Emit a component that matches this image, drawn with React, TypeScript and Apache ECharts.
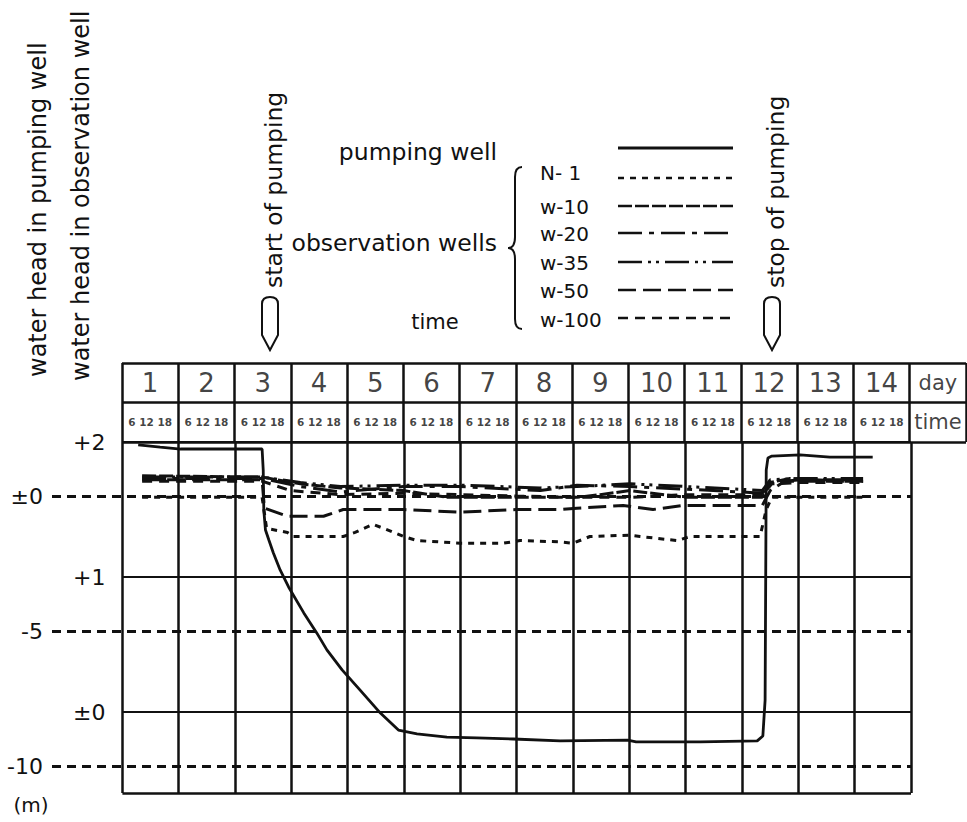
import React, { useEffect, useRef } from "react";
import * as echarts from "echarts";

// ---------------- data ----------------
const DAY_LABELS = ["1", "2", "3", "4", "5", "6", "7", "8", "9", "10", "11", "12", "13", "14"];
const HOUR_LABEL = "6 12 18";
const HEADER_EXTRA = ["day", "time"];

// left scale labels
const PUMP_TICKS = [0, -5, -10];
const PUMP_TICK_LABELS = ["±0", "-5", "-10"];
const OBS_TICKS = [2, 1, 0];
const OBS_TICK_LABELS = ["+2", "+1", "±0"];

// time in days from start of day 1, water head in m
const PUMPING_WELL: [number, number][] = [
  [0.28, 1.89], [0.67, 1.81], [1.03, 1.74], [2.48, 1.74], [2.5, 0.96], [2.51, -0.52],
  [2.54, -1.26], [2.6, -1.63], [2.68, -2.11], [2.8, -2.74], [2.95, -3.37], [3.22, -4.33],
  [3.45, -5.07], [3.63, -5.7], [3.9, -6.44], [4.22, -7.19], [4.58, -8.04], [4.9, -8.67],
  [5.23, -8.81], [5.76, -8.93], [6.29, -8.96], [6.94, -9.0], [7.77, -9.07], [8.97, -9.04],
  [9.12, -9.11], [10.26, -9.11], [11.27, -9.07], [11.37, -8.89], [11.41, -7.56],
  [11.43, 0.96], [11.46, 1.41], [11.53, 1.48], [12.03, 1.52], [12.56, 1.44], [13.32, 1.44],
];

const N1: [number, number][] = [
  [0.35, 1.59], [2.48, 1.59], [2.56, 1.36], [2.93, 1.33], [3.03, 1.3], [3.92, 1.3],
  [4.13, 1.33], [4.45, 1.39], [4.76, 1.34], [4.99, 1.3], [5.23, 1.27], [6.0, 1.25],
  [6.76, 1.25], [7.06, 1.27], [7.77, 1.26], [8.0, 1.25], [8.3, 1.3], [9.01, 1.31],
  [9.19, 1.3], [9.85, 1.27], [10.08, 1.3], [11.32, 1.3], [11.43, 1.5], [11.53, 1.59], [13.15, 1.59],
];
const W10: [number, number][] = [
  [0.35, 1.75], [2.48, 1.74], [3.16, 1.69], [3.87, 1.66], [4.99, 1.64], [5.77, 1.59],
  [6.99, 1.59], [8.07, 1.59], [8.48, 1.61], [9.01, 1.64], [10.02, 1.59], [10.97, 1.59],
  [11.36, 1.59], [11.5, 1.7], [11.85, 1.73], [12.74, 1.71], [13.15, 1.71],
];
const W20: [number, number][] = [
  [0.35, 1.73], [2.48, 1.73], [3.16, 1.67], [3.87, 1.63], [4.99, 1.67], [6.0, 1.67],
  [7.42, 1.64], [8.07, 1.68], [9.01, 1.67], [10.02, 1.65], [10.97, 1.63], [11.36, 1.62],
  [11.53, 1.7], [12.03, 1.72], [13.15, 1.72],
];
const W35: [number, number][] = [
  [0.35, 1.74], [2.48, 1.74], [3.16, 1.7], [3.87, 1.67], [4.99, 1.68], [6.0, 1.68],
  [7.42, 1.66], [8.07, 1.67], [9.01, 1.69], [10.02, 1.67], [10.97, 1.65], [11.36, 1.64],
  [11.5, 1.72], [12.03, 1.73], [13.15, 1.73],
];
const W50: [number, number][] = [
  [0.35, 1.72], [2.48, 1.72], [2.52, 1.51], [2.93, 1.45], [3.57, 1.45], [3.92, 1.5],
  [4.99, 1.5], [6.0, 1.48], [6.99, 1.5], [7.77, 1.5], [8.07, 1.51], [8.89, 1.53],
  [9.42, 1.5], [9.95, 1.53], [10.97, 1.53], [11.36, 1.53], [11.5, 1.64], [11.76, 1.71], [13.15, 1.71],
];
const W100: [number, number][] = [
  [0.35, 1.71], [2.48, 1.71], [2.98, 1.64], [3.87, 1.61], [4.99, 1.62], [6.0, 1.61],
  [6.99, 1.6], [8.07, 1.59], [9.01, 1.59], [10.02, 1.61], [10.97, 1.61], [11.36, 1.61],
  [11.53, 1.69], [12.03, 1.7], [13.15, 1.7],
];

const OBS_NAMES = ["N- 1", "w-10", "w-20", "w-35", "w-50", "w-100"];
const OBS_DATA = [N1, W10, W20, W35, W50, W100];

// ---------------- styles ----------------
const INK = "#111";
const FONT = "DejaVu Sans";
const DASHES: Record<string, number[] | "solid"> = {
  "pumping well": "solid",
  "N- 1": [6, 6],
  "w-10": [14, 3],
  "w-20": [24, 7, 5, 7],
  "w-35": [24, 6, 3, 5, 3, 6],
  "w-50": [18, 7],
  "w-100": [10, 7],
};

echarts.graphic.registerShape(
  "pumpMark",
  echarts.graphic.extendPath("M0,7 Q0,0 8,0 Q16,0 16,7 L16,38 L8,53 L0,38 Z", {})
);
echarts.graphic.registerShape(
  "brace",
  echarts.graphic.extendPath("M14,0 Q7,0 7,10 L7,70 Q7,81 0,81 Q7,81 7,92 L7,152 Q7,162 14,162", {})
);

function buildOption() {
  const txt = (size: number, extra: any = {}) => ({
    color: INK,
    fontFamily: FONT,
    fontSize: size,
    ...extra,
  });

  const dayBounds = Array.from({ length: DAY_LABELS.length + 1 }, (_, i) => i);
  const lastDay = DAY_LABELS.length;

  const mainLines: any[] = [
    ...dayBounds.map((d) => ({ xAxis: d, lineStyle: { type: "solid", width: 2.5, color: INK } })),
    ...PUMP_TICKS.map((v, i) => ({
      yAxis: v,
      lineStyle: { type: [9, 6], width: 3, color: INK },
      label: {
        show: true,
        position: "start",
        distance: 9,
        formatter: PUMP_TICK_LABELS[i],
        ...txt(22),
      },
    })),
  ];

  const obsLines: any[] = [
    ...OBS_TICKS.map((v, i) => [
      {
        coord: [0, v],
        lineStyle: { type: "solid", width: 2, color: INK },
        label: {
          show: true,
          position: "start",
          distance: 17,
          formatter: OBS_TICK_LABELS[i],
          ...txt(22),
        },
      },
      { coord: [lastDay, v] },
    ]),
    [
      { coord: [0, -0.6], lineStyle: { type: "solid", width: 2.5, color: INK } },
      { coord: [lastDay, -0.6] },
    ],
  ];

  const headerItems: any[] = [
    ...DAY_LABELS.map((d, i) => ({ value: [i + 0.5, 1.5], label: { formatter: d, ...txt(26) } })),
    ...DAY_LABELS.map((_, i) => ({
      value: [i + 0.5, 0.5],
      label: { formatter: HOUR_LABEL, ...txt(10.5, { fontWeight: "bold" }) },
    })),
    { value: [lastDay + 0.5, 1.5], label: { formatter: HEADER_EXTRA[0], ...txt(21) } },
    { value: [lastDay + 0.5, 0.5], label: { formatter: HEADER_EXTRA[1], ...txt(21) } },
  ];
  const headerCols = Array.from({ length: lastDay + 2 }, (_, i) => i);

  const obsSeries = OBS_NAMES.map((name, k) => ({
    name,
    type: "line",
    xAxisIndex: 0,
    yAxisIndex: 1,
    data: OBS_DATA[k],
    symbol: "none",
    z: 4,
    lineStyle: { color: INK, width: 3, type: DASHES[name] },
    ...(k === 0
      ? {
          markLine: {
            silent: true,
            z: 1,
            symbol: ["none", "none"],
            label: { show: false },
            data: obsLines,
          },
        }
      : {}),
  }));

  const legendRows = [
    { label: 173, line: 178 },
    { label: 207, line: 206 },
    { label: 234, line: 233 },
    { label: 263, line: 262 },
    { label: 291, line: 290 },
    { label: 320, line: 318 },
  ];

  const sampleLine = (name: string, y: number) => {
    const d = DASHES[name];
    return {
      type: "line",
      shape: { x1: 618, y1: y, x2: 733, y2: y },
      style: { stroke: INK, lineWidth: d === "solid" ? 3 : 2.5, lineDash: d === "solid" ? null : d },
    };
  };

  const gText = (text: string, x: number, y: number, size: number, extra: any = {}, rot = 0) => ({
    type: "text",
    x,
    y,
    rotation: rot,
    style: {
      text,
      fill: INK,
      font: `${size}px "${FONT}"`,
      align: "left",
      verticalAlign: "middle",
      ...extra,
    },
  });

  const graphic: any[] = [
    gText("water head in pumping well", 38, 377, 24, {}, Math.PI / 2),
    gText("water head in observation well", 81, 381, 24, {}, Math.PI / 2),
    gText("start of pumping", 274, 288, 23.5, {}, Math.PI / 2),
    gText("stop of pumping", 776, 288, 23.5, {}, Math.PI / 2),
    { type: "pumpMark", x: 262, y: 297, style: { fill: "#fff", stroke: INK, lineWidth: 2 } },
    { type: "pumpMark", x: 764, y: 297, style: { fill: "#fff", stroke: INK, lineWidth: 2 } },
    gText("pumping well", 497, 152, 23.5, { align: "right" }),
    sampleLine("pumping well", 148),
    gText("observation wells", 497, 243, 23.5, { align: "right" }),
    { type: "brace", x: 508, y: 167, style: { fill: "none", stroke: INK, lineWidth: 2 } },
    ...OBS_NAMES.map((n, i) => gText(n, 540, legendRows[i].label, 20)),
    ...OBS_NAMES.map((n, i) => sampleLine(n, legendRows[i].line)),
    gText("time", 435, 322, 21, { align: "center" }),
    gText("(m)", 31, 805, 20, { align: "center" }),
  ];

  return {
    animation: false,
    backgroundColor: "#fff",
    grid: [
      { left: 52, right: 56, top: 442, bottom: 29 },
      { left: 122, right: 1, top: 363, bottom: 380 },
    ],
    xAxis: [
      { type: "value", gridIndex: 0, min: -1.25, max: lastDay, show: false },
      { type: "value", gridIndex: 1, min: 0, max: lastDay + 1, show: false },
    ],
    yAxis: [
      { type: "value", gridIndex: 0, min: -11, max: 2, show: false },
      { type: "value", gridIndex: 0, min: -0.6, max: 2, show: false },
      { type: "value", gridIndex: 1, min: 0, max: 2, show: false },
    ],
    series: [
      {
        name: "pumping well",
        type: "line",
        xAxisIndex: 0,
        yAxisIndex: 0,
        data: PUMPING_WELL,
        symbol: "none",
        z: 5,
        lineStyle: { color: INK, width: 2.8, type: "solid" },
        markLine: {
          silent: true,
          z: 1,
          symbol: ["none", "none"],
          label: { show: false },
          data: mainLines,
        },
      },
      ...obsSeries,
      {
        name: "header",
        type: "scatter",
        xAxisIndex: 1,
        yAxisIndex: 2,
        symbolSize: 1,
        itemStyle: { color: "rgba(0,0,0,0)" },
        label: { show: true, position: "inside" },
        data: headerItems,
        markLine: {
          silent: true,
          symbol: ["none", "none"],
          label: { show: false },
          lineStyle: { type: "solid", width: 2.5, color: INK },
          data: [
            ...headerCols.map((c) => ({ xAxis: c })),
            { yAxis: 0 },
            { yAxis: 1 },
            { yAxis: 2 },
          ],
        },
      },
    ],
    graphic,
  };
}

export default function App() {
  const ref = useRef<HTMLDivElement>(null);
  useEffect(() => {
    if (!ref.current) return;
    const chart = echarts.init(ref.current, null, { renderer: "svg" });
    chart.setOption(buildOption() as any);
    return () => chart.dispose();
  }, []);
  return (
    <div
      ref={ref}
      style={{ position: "absolute", left: 0, top: 0, width: 967, height: 822, background: "#fff" }}
    />
  );
}
